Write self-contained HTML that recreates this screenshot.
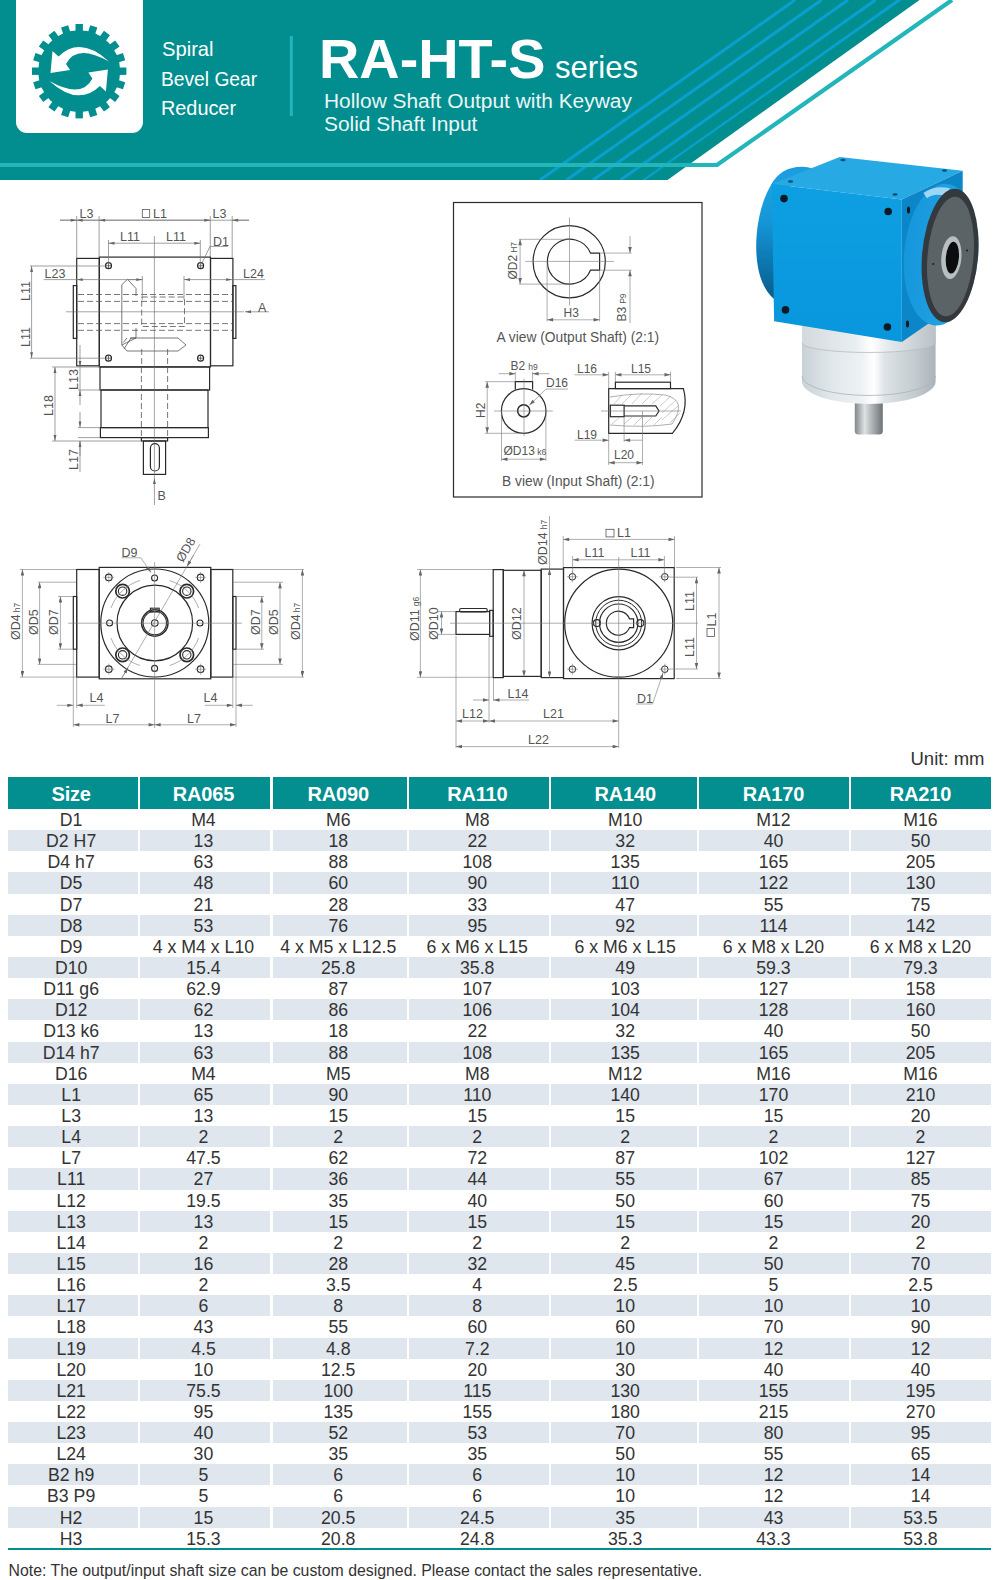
<!DOCTYPE html>
<html><head><meta charset="utf-8">
<style>
*{margin:0;padding:0;box-sizing:border-box}
html,body{width:1000px;height:1580px;overflow:hidden;background:#fff}
body{position:relative;font-family:"Liberation Sans",sans-serif;color:#333}
.abs{position:absolute}
.ht{color:#fff;line-height:1;white-space:nowrap;transform-origin:0 0}
.th{position:absolute;top:777px;height:32px;background:#038e8f;color:#fff;font-weight:bold;font-size:20px;line-height:35px;text-align:center;letter-spacing:-0.2px}
.td{position:absolute;height:21.14px;font-size:17.7px;line-height:21.14px;text-align:center;color:#333;white-space:nowrap;padding-top:1px}
.g{background:#dfe6ed}
.bl{position:absolute;left:8px;width:983px;top:1548.2px;height:2.2px;background:#038e8f}
.note{position:absolute;left:8.5px;top:1561px;font-size:15.85px;line-height:18px;color:#333;white-space:nowrap;padding-top:1px}
.unit{position:absolute;left:910.5px;top:749.2px;font-size:18.5px;line-height:18px;color:#333;white-space:nowrap;padding-top:1px}
</style></head><body>
<svg class="abs" style="left:0;top:0" width="1000" height="190" viewBox="0 0 1000 190">
<defs><clipPath id="tc"><polygon points="0,0 919.5,0 667.5,180 0,180"/></clipPath></defs>
<polygon points="0,0 919.5,0 667.5,180 0,180" fill="#028e8f"/>
<g clip-path="url(#tc)" stroke="#0a9fcf" fill="none">
<line x1="795" y1="0" x2="540" y2="180" stroke-width="3.1"/>
<line x1="821.5" y1="0" x2="566.5" y2="180" stroke-width="3.1"/>
<line x1="848" y1="0" x2="593" y2="180" stroke-width="3.1"/>
<line x1="875.5" y1="0" x2="620.5" y2="180" stroke-width="3.1"/>
<polygon points="896.5,0 902,0 645.5,180 642,180" stroke="none" fill="#0a9fcf"/>
</g>
<polyline points="0,165 717,165 952,0" fill="none" stroke="#22b5ba" stroke-width="4.2"/>
<path d="M16,0 H143 V122 A11,11 0 0 1 132,133 H27 A11,11 0 0 1 16,122 Z" fill="#fff"/>
<g fill="#028e8f">
<circle cx="79.2" cy="71.2" r="41"/>
<g id="teeth">
<rect x="75.5" y="24" width="7.4" height="10" transform="rotate(0 79.2 71.2)"/><rect x="75.5" y="24" width="7.4" height="10" transform="rotate(18 79.2 71.2)"/><rect x="75.5" y="24" width="7.4" height="10" transform="rotate(36 79.2 71.2)"/><rect x="75.5" y="24" width="7.4" height="10" transform="rotate(54 79.2 71.2)"/><rect x="75.5" y="24" width="7.4" height="10" transform="rotate(72 79.2 71.2)"/><rect x="75.5" y="24" width="7.4" height="10" transform="rotate(90 79.2 71.2)"/><rect x="75.5" y="24" width="7.4" height="10" transform="rotate(108 79.2 71.2)"/><rect x="75.5" y="24" width="7.4" height="10" transform="rotate(126 79.2 71.2)"/><rect x="75.5" y="24" width="7.4" height="10" transform="rotate(144 79.2 71.2)"/><rect x="75.5" y="24" width="7.4" height="10" transform="rotate(162 79.2 71.2)"/><rect x="75.5" y="24" width="7.4" height="10" transform="rotate(180 79.2 71.2)"/><rect x="75.5" y="24" width="7.4" height="10" transform="rotate(198 79.2 71.2)"/><rect x="75.5" y="24" width="7.4" height="10" transform="rotate(216 79.2 71.2)"/><rect x="75.5" y="24" width="7.4" height="10" transform="rotate(234 79.2 71.2)"/><rect x="75.5" y="24" width="7.4" height="10" transform="rotate(252 79.2 71.2)"/><rect x="75.5" y="24" width="7.4" height="10" transform="rotate(270 79.2 71.2)"/><rect x="75.5" y="24" width="7.4" height="10" transform="rotate(288 79.2 71.2)"/><rect x="75.5" y="24" width="7.4" height="10" transform="rotate(306 79.2 71.2)"/><rect x="75.5" y="24" width="7.4" height="10" transform="rotate(324 79.2 71.2)"/><rect x="75.5" y="24" width="7.4" height="10" transform="rotate(342 79.2 71.2)"/>
</g>
</g>
<g fill="#fff">
<path id="arw" d="M50.5,73 L52.5,51 L58.5,56.5 Q80.25,35.4 109,61.5 Q76.5,43.25 66,64 L70,70 Z"/>
<use href="#arw" transform="rotate(180 79.2 71.2)"/>
</g>
<rect x="289.8" y="36" width="3" height="80" fill="#22b5ba"/>
</svg>
<div class="abs ht" style="left:161.5px;top:38px;font-size:21px;transform:scaleX(0.96)">Spiral</div>
<div class="abs ht" style="left:160.5px;top:67.6px;font-size:21px;transform:scaleX(0.915)">Bevel Gear</div>
<div class="abs ht" style="left:160.5px;top:97.4px;font-size:21px;transform:scaleX(0.945)">Reducer</div>
<div class="abs ht" style="left:319.3px;top:31.9px;font-size:55px;font-weight:bold;transform:scaleX(1.015)">RA-HT-S</div>
<div class="abs ht" style="left:554.5px;top:51.7px;font-size:30.5px;transform:scaleX(1.02)">series</div>
<div class="abs ht" style="left:324px;top:91.4px;font-size:20px;transform:scaleX(1.045);opacity:0.92">Hollow Shaft Output with Keyway</div>
<div class="abs ht" style="left:324px;top:114.2px;font-size:20px;transform:scaleX(1.045);opacity:0.92">Solid Shaft Input</div>

<svg class="abs" style="left:740px;top:140px" width="260" height="310" viewBox="740 140 260 310">
<defs>
<linearGradient id="silv" x1="0" x2="1" y1="0" y2="0">
<stop offset="0" stop-color="#c8d1d6"/><stop offset="0.2" stop-color="#dfe6ea"/><stop offset="0.45" stop-color="#eef2f4"/><stop offset="0.54" stop-color="#ffffff"/><stop offset="0.62" stop-color="#dde3e6"/><stop offset="0.85" stop-color="#c3cbcf"/><stop offset="1" stop-color="#aab3b8"/>
</linearGradient>
<linearGradient id="silv2" x1="0" x2="1" y1="0" y2="0">
<stop offset="0" stop-color="#d3dade"/><stop offset="0.4" stop-color="#e9eef1"/><stop offset="0.52" stop-color="#ffffff"/><stop offset="0.65" stop-color="#e4e9ec"/><stop offset="1" stop-color="#b9c2c7"/>
</linearGradient>
<linearGradient id="shaft" x1="0" x2="1" y1="0" y2="0">
<stop offset="0" stop-color="#80868a"/><stop offset="0.35" stop-color="#dfe2e3"/><stop offset="0.55" stop-color="#b9bec1"/><stop offset="1" stop-color="#6c7276"/>
</linearGradient>
<linearGradient id="front" x1="0" x2="0" y1="0" y2="1">
<stop offset="0" stop-color="#0e9fe2"/><stop offset="1" stop-color="#0896dc"/>
</linearGradient>
<linearGradient id="bossg" x1="0" x2="0" y1="0" y2="1">
<stop offset="0" stop-color="#1ea2e0"/><stop offset="0.35" stop-color="#1595d6"/><stop offset="0.7" stop-color="#0c76b0"/><stop offset="1" stop-color="#0a5c88"/>
</linearGradient>
<linearGradient id="flg" x1="0" x2="1" y1="0" y2="0">
<stop offset="0" stop-color="#1597dc"/><stop offset="1" stop-color="#2aa6e4"/>
</linearGradient>
</defs>
<!-- shaft -->
<path d="M854.8,398 H882.8 V431 Q882.8,434.5 879,434.5 H858.5 Q854.8,434.5 854.8,431 Z" fill="url(#shaft)"/>
<!-- silver housing -->
<path d="M802,318 L935.6,318 L935.6,381.5 A66.8,22.5 0 0 1 802,381.5 Z" fill="url(#silv)"/>
<path d="M802,318 L935.6,318 L935.6,343 A66.8,9.5 0 0 1 802,343 Z" fill="url(#silv2)"/>
<path d="M802,343 A66.8,9.5 0 0 0 935.6,343" fill="none" stroke="#b3bcc1" stroke-width="0.8"/>
<path d="M802,376 A66.8,19.5 0 0 0 935.6,376" fill="none" stroke="#aab3b8" stroke-width="0.8"/>
<!-- left boss -->
<path d="M773,182 C763,196 756,222 756.2,247 C756.4,272 763,290 774,299 L790,299 L790,182 Z" fill="url(#bossg)"/>
<path d="M771,185 Q782,165 806,167 Q812,168 814,170 L790,181 Z" fill="#1c9ddf"/>
<!-- top face -->
<polygon points="771.8,184 839.7,156.9 962.7,170.7 901.8,199.4" fill="#27a9e3"/>
<!-- right face -->
<polygon points="901.8,199.4 962.7,170.7 962.7,300 901.8,342" fill="#0b87c9"/>
<!-- front face -->
<polygon points="771.8,184 901.8,199.4 901.8,342 774.1,321.3" fill="url(#front)"/>
<!-- top holes -->
<g fill="#0a4f77">
<ellipse cx="843" cy="160" rx="2.6" ry="1.2"/><ellipse cx="944.5" cy="170.5" rx="2.6" ry="1.2"/>
<ellipse cx="790.5" cy="181.5" rx="2.6" ry="1.2"/><ellipse cx="895" cy="194.5" rx="2.6" ry="1.2"/>
</g>
<!-- front holes -->
<g fill="#0b1a24">
<circle cx="784" cy="198.6" r="3.8"/><circle cx="888.2" cy="211.5" r="3.8"/>
<circle cx="785.5" cy="309.9" r="3.8"/><circle cx="887.4" cy="327" r="3.8"/>
<ellipse cx="908.5" cy="210" rx="1.6" ry="3.6"/><ellipse cx="907.5" cy="324" rx="1.6" ry="3.6"/>
</g>
<!-- flange --><g transform="rotate(5 945 256)">
<ellipse cx="941" cy="255" rx="37" ry="71" fill="url(#flg)"/>
<path d="M918,195 Q928,186 944,188 L940,196 Q928,194 922,200 Z" fill="#bfe6f8" opacity="0.8"/>
<ellipse cx="950" cy="255" rx="28" ry="67" fill="#33393d"/>
<ellipse cx="950.5" cy="256" rx="23" ry="60" fill="#5c6367"/>
<ellipse cx="951.5" cy="257" rx="10" ry="21.5" fill="#b9bec1"/>
<ellipse cx="952.5" cy="257" rx="6.5" ry="16" fill="#0a0c0d"/>
<circle cx="934" cy="265" r="1" fill="#1a1d1f"/><circle cx="966.5" cy="248.5" r="1" fill="#1a1d1f"/>
</g>
</svg>

<svg class="abs" style="left:0;top:190px" width="300" height="330" viewBox="0 190 300 330">
<defs>
<marker id="ar" viewBox="0 0 10 6" refX="10" refY="3" markerWidth="8" markerHeight="3.6" markerUnits="userSpaceOnUse" orient="auto-start-reverse"><path d="M0,0.6 L10,3 L0,5.4 Z" fill="#666"/></marker>
</defs>
<g fill="none" stroke="#2a2a2a" stroke-width="1.2">
<rect x="99.3" y="257.1" width="111.2" height="109.8"/>
<rect x="76.7" y="258.4" width="22.6" height="107.4"/>
<rect x="210.5" y="258.4" width="22.4" height="107.4"/>
<rect x="73.3" y="285.6" width="3.4" height="52.8"/>
<rect x="232.9" y="285.6" width="3" height="52.8"/>
<rect x="100" y="367" width="109.6" height="23"/>
<rect x="101" y="390" width="107" height="37.6"/>
<rect x="100.4" y="427.6" width="108" height="10"/>
<rect x="141.4" y="437.6" width="26.2" height="3.4"/>
<rect x="143.4" y="441" width="22.2" height="33.4"/>
<rect x="150.4" y="443.6" width="9" height="27.4" rx="4.5"/>
<circle cx="108.5" cy="265.7" r="3"/><circle cx="200.6" cy="265.7" r="3"/>
<circle cx="108.5" cy="358.2" r="3"/><circle cx="200.6" cy="358.2" r="3"/>
</g>
<g fill="none" stroke="#555" stroke-width="0.8" stroke-dasharray="6,3">
<line x1="78" y1="294.5" x2="232" y2="294.5"/>
<line x1="78" y1="301.4" x2="232" y2="301.4"/>
<line x1="78" y1="323.6" x2="232" y2="323.6"/>
<line x1="78" y1="330.3" x2="232" y2="330.3"/>
<rect x="141.7" y="297" width="42.8" height="29.5"/>
<line x1="141.4" y1="367" x2="141.4" y2="437"/>
<line x1="167.6" y1="367" x2="167.6" y2="437"/>
<line x1="141.7" y1="349" x2="141.7" y2="367"/>
<line x1="167.6" y1="349" x2="167.6" y2="367"/>
<polyline points="136,338 127,338 122,344"/>
</g>
<g fill="none" stroke="#555" stroke-width="0.8">
<polyline points="121.8,345 121.8,284.7 127.5,279.3 136,288.5 136,296"/>
<polyline points="136,328 136,338 121.8,345"/>
<polyline points="124,349 131,338 178,338 186,345 178,351 127,351 121.8,345"/>
<line x1="106" y1="265.7" x2="111" y2="265.7"/><line x1="108.5" y1="263.2" x2="108.5" y2="268.2"/>
<line x1="198.1" y1="265.7" x2="203.1" y2="265.7"/><line x1="200.6" y1="263.2" x2="200.6" y2="268.2"/>
<line x1="106" y1="358.2" x2="111" y2="358.2"/><line x1="108.5" y1="355.7" x2="108.5" y2="360.7"/>
<line x1="198.1" y1="358.2" x2="203.1" y2="358.2"/><line x1="200.6" y1="355.7" x2="200.6" y2="360.7"/>
</g>
<g fill="none" stroke="#666" stroke-width="0.6">
<line x1="154.4" y1="236" x2="154.4" y2="478"/>
<line x1="66" y1="311.8" x2="244" y2="311.8"/>
</g>
<g fill="none" stroke="#777" stroke-width="0.7">
<line x1="60" y1="220.2" x2="249" y2="220.2"/>
<line x1="76.7" y1="216" x2="76.7" y2="258"/><line x1="99.1" y1="216" x2="99.1" y2="257"/>
<line x1="210.3" y1="216" x2="210.3" y2="257"/><line x1="232.2" y1="216" x2="232.2" y2="258"/>
<line x1="99.1" y1="220.2" x2="76.7" y2="220.2" marker-end="url(#ar)"/>
<line x1="60" y1="220.2" x2="76.7" y2="220.2" marker-end="url(#ar)"/>
<line x1="154" y1="220.2" x2="99.1" y2="220.2" marker-end="url(#ar)"/>
<line x1="154" y1="220.2" x2="210.3" y2="220.2" marker-end="url(#ar)"/>
<line x1="249" y1="220.2" x2="232.2" y2="220.2" marker-end="url(#ar)"/>
<line x1="108.5" y1="240" x2="108.5" y2="263"/><line x1="200.3" y1="240" x2="200.3" y2="263"/>
<line x1="154.4" y1="243.2" x2="108.5" y2="243.2" marker-end="url(#ar)"/>
<line x1="154.4" y1="243.2" x2="200.3" y2="243.2" marker-end="url(#ar)"/>
<polyline points="228,246.4 210,246.4 202,263"/>
<line x1="30" y1="266" x2="106" y2="266"/>
<line x1="30" y1="358.2" x2="106" y2="358.2"/>
<line x1="31.6" y1="311.8" x2="31.6" y2="266" marker-end="url(#ar)"/>
<line x1="31.6" y1="311.8" x2="31.6" y2="358.2" marker-end="url(#ar)"/>
<line x1="43.7" y1="279.6" x2="76.7" y2="279.6"/>
<line x1="143" y1="279.6" x2="76.7" y2="279.6" marker-end="url(#ar)"/>
<line x1="142.3" y1="279.6" x2="128" y2="279.6" marker-start="url(#ar)"/>
<line x1="142.3" y1="276" x2="142.3" y2="300"/>
<line x1="265" y1="279.6" x2="232.9" y2="279.6"/>
<line x1="184" y1="279.6" x2="232.2" y2="279.6" marker-start="url(#ar)" marker-end="url(#ar)"/>
<line x1="184" y1="276" x2="184" y2="300"/>
<line x1="269" y1="311.8" x2="245" y2="311.8" marker-end="url(#ar)"/>
<line x1="52" y1="367" x2="100" y2="367"/>
<line x1="78" y1="390" x2="101" y2="390"/>
<line x1="78" y1="427.6" x2="100" y2="427.6"/>
<line x1="78" y1="437.6" x2="100" y2="437.6"/>
<line x1="52" y1="441" x2="141" y2="441"/>
<line x1="55" y1="404" x2="55" y2="367" marker-end="url(#ar)"/>
<line x1="55" y1="404" x2="55" y2="441" marker-end="url(#ar)"/>
<line x1="80" y1="345" x2="80" y2="367" marker-end="url(#ar)"/>
<line x1="80" y1="367" x2="80" y2="390"/>
<line x1="80" y1="405" x2="80" y2="390" marker-end="url(#ar)"/>
<line x1="80" y1="412" x2="80" y2="427.6" marker-end="url(#ar)"/>
<line x1="80" y1="456" x2="80" y2="441" marker-end="url(#ar)"/>
<line x1="80" y1="441" x2="80" y2="472"/>
<line x1="154.4" y1="505" x2="154.4" y2="478" marker-end="url(#ar)"/>
</g>
<g fill="#555" font-size="12.5" font-family="Liberation Sans, sans-serif">
<text x="79.5" y="217.5">L3</text>
<text x="153" y="217.5">L1</text>
<rect x="142.3" y="209.6" width="7.4" height="7.8" fill="none" stroke="#555" stroke-width="0.8"/>
<text x="212.5" y="217.5">L3</text>
<text x="120" y="241">L11</text>
<text x="166" y="241">L11</text>
<text x="213" y="245.5">D1</text>
<text x="44.5" y="278">L23</text>
<text x="243" y="278">L24</text>
<text x="258" y="312">A</text>
<text x="157.5" y="500">B</text>
<text transform="translate(30,301) rotate(-90)">L11</text>
<text transform="translate(30,347) rotate(-90)">L11</text>
<text transform="translate(52.5,416) rotate(-90)">L18</text>
<text transform="translate(77.5,390) rotate(-90)">L13</text>
<text transform="translate(77.5,470) rotate(-90)">L17</text>
</g>
</svg>

<svg class="abs" style="left:440px;top:195px" width="275" height="315" viewBox="440 195 275 315">
<defs>
<marker id="ar2" viewBox="0 0 10 6" refX="10" refY="3" markerWidth="8" markerHeight="3.6" markerUnits="userSpaceOnUse" orient="auto-start-reverse"><path d="M0,0 L10,3 L0,6 Z" fill="#666"/></marker>
</defs>
<rect x="453.5" y="202.5" width="248.5" height="294.5" fill="none" stroke="#2a2a2a" stroke-width="1.2"/>
<g fill="none" stroke="#2a2a2a" stroke-width="1.2">
<circle cx="569.2" cy="261.7" r="36.1"/>
<path d="M590.5,253.1 A22.4,22.4 0 1 0 590.5,270.2 L599.6,270.2 L599.6,253.1 Z"/>
<circle cx="523.7" cy="411" r="22.3"/>
<circle cx="523.7" cy="410.8" r="6.1" stroke-width="1.5"/>
<polyline points="515.3,389.5 515.3,381.7 532.6,381.7 532.6,389.5"/>
<path d="M670.5,388.6 L683.4,388.6 Q690,412 672.4,433.3 L608.7,433.3 L608.7,388.6 L670.5,388.6"/>
<rect x="615.4" y="382.2" width="55.1" height="6.4"/>
<rect x="610.3" y="405.2" width="13.8" height="11.5"/>
<polyline points="624.1,405.9 655.8,405.9 659,411 655.8,416 624.1,416"/>
</g>
<g fill="none" stroke="#777" stroke-width="0.6">
<path d="M610,397 Q640,392 665,395 Q688,400 672,424 Q645,428 610,425" />
<g stroke-width="0.5" stroke="#999">
<line x1="614" y1="404" x2="622" y2="395"/><line x1="622" y1="404" x2="632" y2="394"/><line x1="632" y1="404" x2="642" y2="393"/><line x1="642" y1="404" x2="652" y2="394"/><line x1="652" y1="404" x2="662" y2="395"/><line x1="660" y1="406" x2="671" y2="396"/><line x1="662" y1="413" x2="676" y2="400"/><line x1="662" y1="420" x2="678" y2="406"/><line x1="670" y1="423" x2="680" y2="413"/>
<line x1="612" y1="424" x2="620" y2="417"/><line x1="624" y1="424" x2="632" y2="417"/><line x1="634" y1="425" x2="642" y2="417"/><line x1="644" y1="425" x2="652" y2="417"/><line x1="654" y1="425" x2="662" y2="417"/>
</g>
</g>
<g fill="none" stroke="#777" stroke-width="0.6">
<line x1="569.5" y1="217.4" x2="569.5" y2="305.4"/>
<line x1="525.2" y1="261.4" x2="614" y2="261.4"/>
<line x1="518.8" y1="239.3" x2="569" y2="239.3"/><line x1="518.8" y1="284.1" x2="569" y2="284.1"/>
<line x1="520.1" y1="261.7" x2="520.1" y2="239.3" marker-end="url(#ar2)"/>
<line x1="520.1" y1="261.7" x2="520.1" y2="284.1" marker-end="url(#ar2)"/>
<line x1="600.4" y1="253.1" x2="631.6" y2="253.1"/><line x1="600.4" y1="270.2" x2="631.6" y2="270.2"/>
<line x1="630" y1="235.8" x2="630" y2="253.1" marker-end="url(#ar2)"/>
<line x1="630" y1="323" x2="630" y2="270.2" marker-end="url(#ar2)"/>
<line x1="547.1" y1="261.4" x2="547.1" y2="321.4"/><line x1="599.6" y1="270.2" x2="599.6" y2="321.4"/>
<line x1="573" y1="319.8" x2="547.1" y2="319.8" marker-end="url(#ar2)"/>
<line x1="573" y1="319.8" x2="599.6" y2="319.8" marker-end="url(#ar2)"/>
<line x1="524" y1="378.7" x2="524" y2="436.2"/>
<line x1="494.1" y1="411" x2="552.8" y2="411"/>
<line x1="485" y1="381.7" x2="515" y2="381.7"/><line x1="485" y1="433.3" x2="524" y2="433.3"/>
<line x1="487.2" y1="407" x2="487.2" y2="381.7" marker-end="url(#ar2)"/>
<line x1="487.2" y1="407" x2="487.2" y2="433.3" marker-end="url(#ar2)"/>
<line x1="515.3" y1="371.8" x2="515.3" y2="381.7"/><line x1="532.6" y1="371.8" x2="532.6" y2="381.7"/>
<line x1="498.7" y1="373.7" x2="515.3" y2="373.7" marker-end="url(#ar2)"/>
<line x1="549.3" y1="373.7" x2="532.6" y2="373.7" marker-end="url(#ar2)"/>
<polyline points="568,389.1 546,389.1 529.3,405.2" marker-end="url(#ar2)"/>
<line x1="501.5" y1="411" x2="501.5" y2="461"/><line x1="545.9" y1="411" x2="545.9" y2="461"/>
<line x1="523" y1="459.2" x2="501.5" y2="459.2" marker-end="url(#ar2)"/>
<line x1="523" y1="459.2" x2="545.9" y2="459.2" marker-end="url(#ar2)"/>
<line x1="601" y1="411" x2="681" y2="411"/>
<line x1="608.7" y1="371.8" x2="608.7" y2="388.6"/><line x1="615.4" y1="371.8" x2="615.4" y2="382"/><line x1="670.5" y1="371.8" x2="670.5" y2="382"/>
<line x1="574.6" y1="374.8" x2="608.7" y2="374.8" marker-end="url(#ar2)"/>
<line x1="643" y1="374.8" x2="615.4" y2="374.8" marker-end="url(#ar2)"/>
<line x1="643" y1="374.8" x2="670.5" y2="374.8" marker-end="url(#ar2)"/>
<line x1="608.7" y1="433.3" x2="608.7" y2="465"/><line x1="624.1" y1="416.7" x2="624.1" y2="442"/><line x1="642.5" y1="411" x2="642.5" y2="465"/>
<line x1="574.6" y1="440.2" x2="608.7" y2="440.2" marker-end="url(#ar2)"/>
<line x1="642.5" y1="440.2" x2="624.1" y2="440.2" marker-end="url(#ar2)"/>
<line x1="625" y1="462.7" x2="608.7" y2="462.7" marker-end="url(#ar2)"/>
<line x1="625" y1="462.7" x2="642.5" y2="462.7" marker-end="url(#ar2)"/>
</g>
<g fill="#555" font-family="Liberation Sans, sans-serif" font-size="12.5">
<text x="496.5" y="341.6" font-size="13.8">A view (Output Shaft) (2:1)</text>
<text x="502" y="486.4" font-size="13.8">B view (Input Shaft) (2:1)</text>
<text x="563.5" y="317" font-size="12">H3</text>
<text transform="translate(517,279.5) rotate(-90)" font-size="12">ØD2<tspan font-size="8.5" dx="2">H7</tspan></text>
<text transform="translate(626,321.5) rotate(-90)" font-size="12">B3<tspan font-size="8.5" dx="3">P9</tspan></text>
<text transform="translate(485,418) rotate(-90)" font-size="12">H2</text>
<text x="510.5" y="370.2" font-size="12">B2<tspan font-size="8.5" dx="3">h9</tspan></text>
<text x="546" y="387.3" font-size="12">D16</text>
<text x="503.5" y="454.6" font-size="12">ØD13<tspan font-size="8.5" dx="2.5">k6</tspan></text>
<text x="577" y="373" font-size="12">L16</text>
<text x="631" y="373" font-size="12">L15</text>
<text x="577" y="438.5" font-size="12">L19</text>
<text x="614" y="459.2" font-size="12">L20</text>
</g>
</svg>

<svg class="abs" style="left:0;top:530px" width="320" height="210" viewBox="0 530 320 210">
<defs>
<marker id="ar3" viewBox="0 0 10 6" refX="10" refY="3" markerWidth="8" markerHeight="3.6" markerUnits="userSpaceOnUse" orient="auto-start-reverse"><path d="M0,0 L10,3 L0,6 Z" fill="#666"/></marker>
</defs>
<g fill="none" stroke="#2a2a2a" stroke-width="1.2">
<rect x="99.2" y="567.4" width="111.6" height="111.4"/>
<rect x="76.7" y="569.5" width="22.5" height="107.6"/>
<rect x="210.8" y="569.5" width="22" height="107.6"/>
<rect x="73.3" y="596.5" width="3.4" height="52.7"/>
<rect x="232.8" y="596.5" width="3.2" height="52.7"/>
<circle cx="154.8" cy="623" r="54"/>
<circle cx="154.8" cy="623" r="37.8"/>
<g stroke-width="1.7"><circle cx="122.6" cy="591.2" r="6.8"/><circle cx="186.8" cy="591.2" r="6.8"/>
<circle cx="122.6" cy="654.8" r="6.8"/><circle cx="186.8" cy="654.8" r="6.8"/></g>
<circle cx="154.8" cy="623" r="13.2" stroke-width="1.5"/>
</g>
<g fill="none" stroke="#2a2a2a" stroke-width="1.1">
<circle cx="122.6" cy="591.2" r="4.2"/><circle cx="186.8" cy="591.2" r="4.2"/>
<circle cx="122.6" cy="654.8" r="4.2"/><circle cx="186.8" cy="654.8" r="4.2"/>
<circle cx="154.8" cy="623" r="11.7"/>
<rect x="150.4" y="608.2" width="8.8" height="3.8"/>
<circle cx="154.8" cy="623" r="3.3"/>
<circle cx="109.6" cy="623" r="3"/><circle cx="200" cy="623" r="3"/>
<circle cx="154.6" cy="578" r="3"/><circle cx="154.6" cy="668.4" r="3"/>
<circle cx="108.8" cy="577.4" r="3.3"/><circle cx="200.6" cy="577.4" r="3.3"/>
<circle cx="108.8" cy="669.2" r="3.3"/><circle cx="200.6" cy="669.2" r="3.3"/>
<path stroke="#777" stroke-width="0.6" d="M103.3,577.4 H114.3 M108.8,571.9 V582.9 M195.1,577.4 H206.1 M200.60000000000002,571.9 V582.9 M103.3,669.2 H114.3 M108.8,663.7 V674.7 M195.1,669.2 H206.1 M200.60000000000002,663.7 V674.7"/>
</g>
<g fill="none" stroke="#777" stroke-width="0.6">
<path d="M111,608 A45,45 0 0 1 140,580.5 M169.5,580.5 A45,45 0 0 1 198.6,608 M198.6,638 A45,45 0 0 1 169.5,665.5 M140,665.5 A45,45 0 0 1 111,638"/>
<line x1="154.6" y1="562" x2="154.6" y2="728"/>
<line x1="68.2" y1="623.2" x2="242" y2="623.2"/>
<line x1="121.6" y1="678.4" x2="200" y2="544"/>
<line x1="128" y1="667.5" x2="121.6" y2="678.4" marker-start="url(#ar3)"/>
<line x1="187" y1="566.5" x2="193.5" y2="555.3" marker-start="url(#ar3)"/>
<polyline points="121.6,557.8 140.8,557.8 151,572.5" marker-end="url(#ar3)"/>
<line x1="20" y1="569.5" x2="76" y2="569.5"/><line x1="20" y1="677.1" x2="76" y2="677.1"/>
<line x1="37.8" y1="582.2" x2="76" y2="582.2"/><line x1="37.8" y1="664.4" x2="76" y2="664.4"/>
<line x1="58.1" y1="596.5" x2="73" y2="596.5"/><line x1="58.1" y1="649.2" x2="73" y2="649.2"/>
<line x1="22.4" y1="623" x2="22.4" y2="569.5" marker-end="url(#ar3)"/><line x1="22.4" y1="623" x2="22.4" y2="677.1" marker-end="url(#ar3)"/>
<line x1="39.6" y1="623" x2="39.6" y2="582.2" marker-end="url(#ar3)"/><line x1="39.6" y1="623" x2="39.6" y2="664.4" marker-end="url(#ar3)"/>
<line x1="60.4" y1="623" x2="60.4" y2="596.5" marker-end="url(#ar3)"/><line x1="60.4" y1="623" x2="60.4" y2="649.2" marker-end="url(#ar3)"/>
<line x1="233" y1="569.5" x2="304" y2="569.5"/><line x1="233" y1="677.1" x2="304" y2="677.1"/>
<line x1="233" y1="582.2" x2="283" y2="582.2"/><line x1="233" y1="664.4" x2="283" y2="664.4"/>
<line x1="236" y1="596.5" x2="264" y2="596.5"/><line x1="236" y1="649.2" x2="264" y2="649.2"/>
<line x1="302.4" y1="623" x2="302.4" y2="569.5" marker-end="url(#ar3)"/><line x1="302.4" y1="623" x2="302.4" y2="677.1" marker-end="url(#ar3)"/>
<line x1="280" y1="623" x2="280" y2="582.2" marker-end="url(#ar3)"/><line x1="280" y1="623" x2="280" y2="664.4" marker-end="url(#ar3)"/>
<line x1="261.8" y1="623" x2="261.8" y2="596.5" marker-end="url(#ar3)"/><line x1="261.8" y1="623" x2="261.8" y2="649.2" marker-end="url(#ar3)"/>
<line x1="73.3" y1="650" x2="73.3" y2="727"/><line x1="76.7" y1="678" x2="76.7" y2="708"/>
<line x1="232.8" y1="678" x2="232.8" y2="708"/><line x1="236" y1="650" x2="236" y2="727"/>
<line x1="56.8" y1="705.3" x2="73.3" y2="705.3" marker-end="url(#ar3)"/>
<line x1="104.9" y1="705.3" x2="76.7" y2="705.3" marker-end="url(#ar3)"/>
<line x1="204.8" y1="705.3" x2="232.8" y2="705.3" marker-end="url(#ar3)"/>
<line x1="252.8" y1="705.3" x2="236" y2="705.3" marker-end="url(#ar3)"/>
<line x1="154.6" y1="724.8" x2="73.3" y2="724.8" marker-start="url(#ar3)" marker-end="url(#ar3)"/>
<line x1="154.6" y1="724.8" x2="236" y2="724.8" marker-start="url(#ar3)" marker-end="url(#ar3)"/>
</g>
<g fill="#555" font-family="Liberation Sans, sans-serif" font-size="12.5">
<text x="121.5" y="556.5">D9</text>
<text transform="translate(183,563) rotate(-60)">ØD8</text>
<text x="89.5" y="702.4">L4</text>
<text x="203.5" y="702.4">L4</text>
<text x="105.5" y="722.5">L7</text>
<text x="187" y="722.5">L7</text>
<text transform="translate(19.5,640) rotate(-90)">ØD4<tspan font-size="8.5" dx="2">h7</tspan></text>
<text transform="translate(37.5,635) rotate(-90)">ØD5</text>
<text transform="translate(58,635) rotate(-90)">ØD7</text>
<text transform="translate(260,635) rotate(-90)">ØD7</text>
<text transform="translate(277.5,635) rotate(-90)">ØD5</text>
<text transform="translate(300,640) rotate(-90)">ØD4<tspan font-size="8.5" dx="2">h7</tspan></text>
</g>
</svg>

<svg class="abs" style="left:400px;top:505px" width="340" height="255" viewBox="400 505 340 255">
<defs>
<marker id="ar4" viewBox="0 0 10 6" refX="10" refY="3" markerWidth="8" markerHeight="3.6" markerUnits="userSpaceOnUse" orient="auto-start-reverse"><path d="M0,0 L10,3 L0,6 Z" fill="#666"/></marker>
</defs>
<g fill="none" stroke="#2a2a2a" stroke-width="1.2">
<rect x="563.5" y="567.6" width="110.7" height="111"/>
<circle cx="618.7" cy="623.2" r="54"/>
<circle cx="618.7" cy="623.2" r="26.6"/>
<circle cx="618.7" cy="623.2" r="19.2"/>
<path d="M629.5,618.8 A12,12 0 1 0 629.5,627.6 L633.6,627.6 L633.6,618.8 Z"/>
<circle cx="596.9" cy="623.1" r="3.5"/><circle cx="640.3" cy="623.1" r="3.5"/>
<rect x="541.2" y="569.1" width="22.3" height="108.5"/>
<rect x="503.3" y="570.3" width="37.9" height="106.1"/>
<rect x="493.2" y="569.6" width="10.1" height="108"/>
<rect x="489.6" y="610.4" width="3.6" height="25.9"/>
<rect x="456" y="611.6" width="33.6" height="22.8"/>
<rect x="459.6" y="608.5" width="27.6" height="3.5" rx="1.5"/>
</g>
<g fill="none" stroke="#2a2a2a" stroke-width="1">
<circle cx="618.7" cy="623.2" r="23"/>
<circle cx="572.4" cy="576.8" r="3.3"/><circle cx="664.8" cy="576.8" r="3.3"/>
<circle cx="572.4" cy="669.2" r="3.3"/><circle cx="664.8" cy="669.2" r="3.3"/>
<path stroke="#777" stroke-width="0.6" d="M566.9,576.8 H577.9 M572.4000000000001,571.3 V582.3 M659.3,576.8 H670.3 M664.8,571.3 V582.3 M566.9,669.2 H577.9 M572.4000000000001,663.7 V674.7 M659.3,669.2 H670.3 M664.8,663.7 V674.7"/>
</g>
<g fill="none" stroke="#777" stroke-width="0.6">
<line x1="450" y1="623.2" x2="698" y2="623.2"/>
<line x1="618.7" y1="557" x2="618.7" y2="748"/>
<line x1="563.2" y1="536" x2="563.2" y2="567"/><line x1="674.5" y1="536" x2="674.5" y2="567"/>
<line x1="619" y1="539.4" x2="563.2" y2="539.4" marker-end="url(#ar4)"/>
<line x1="619" y1="539.4" x2="674.5" y2="539.4" marker-end="url(#ar4)"/>
<line x1="572.6" y1="556" x2="572.6" y2="573"/><line x1="664.4" y1="556" x2="664.4" y2="573"/>
<line x1="618.8" y1="559.8" x2="572.6" y2="559.8" marker-end="url(#ar4)"/>
<line x1="618.8" y1="559.8" x2="664.4" y2="559.8" marker-end="url(#ar4)"/>
<line x1="676" y1="567.5" x2="721" y2="567.5"/><line x1="676" y1="678.5" x2="721" y2="678.5"/>
<line x1="670" y1="577.2" x2="698" y2="577.2"/><line x1="670" y1="669" x2="698" y2="669"/>
<line x1="696.5" y1="623.3" x2="696.5" y2="577.2" marker-end="url(#ar4)"/>
<line x1="696.5" y1="623.3" x2="696.5" y2="669" marker-end="url(#ar4)"/>
<line x1="719" y1="623" x2="719" y2="567.5" marker-end="url(#ar4)"/>
<line x1="719" y1="623" x2="719" y2="678.5" marker-end="url(#ar4)"/>
<polyline points="636,704 652.5,704 663,673" marker-end="url(#ar4)"/>
<line x1="549.5" y1="516" x2="549.5" y2="569"/>
<line x1="549.5" y1="623" x2="549.5" y2="569.1" marker-end="url(#ar4)"/>
<line x1="549.5" y1="623" x2="549.5" y2="677.6" marker-end="url(#ar4)"/>
<line x1="524" y1="623" x2="524" y2="570.3" marker-end="url(#ar4)"/>
<line x1="524" y1="623" x2="524" y2="676.4" marker-end="url(#ar4)"/>
<line x1="417" y1="569.5" x2="493" y2="569.5"/><line x1="417" y1="677.3" x2="493" y2="677.3"/>
<line x1="420.4" y1="623" x2="420.4" y2="569.5" marker-end="url(#ar4)"/>
<line x1="420.4" y1="623" x2="420.4" y2="677.3" marker-end="url(#ar4)"/>
<line x1="437.4" y1="611.6" x2="456" y2="611.6"/><line x1="437.4" y1="634.4" x2="456" y2="634.4"/>
<line x1="441.5" y1="623" x2="441.5" y2="611.6" marker-end="url(#ar4)"/>
<line x1="441.5" y1="623" x2="441.5" y2="634.4" marker-end="url(#ar4)"/>
<line x1="456" y1="635.8" x2="456" y2="748"/>
<line x1="489" y1="637" x2="489" y2="722.5"/>
<line x1="493.5" y1="678" x2="493.5" y2="701"/>
<line x1="473" y1="700" x2="489" y2="700" marker-end="url(#ar4)"/>
<line x1="529" y1="700" x2="493.5" y2="700" marker-end="url(#ar4)"/>
<line x1="472" y1="721" x2="456" y2="721" marker-end="url(#ar4)"/>
<line x1="472" y1="721" x2="489" y2="721" marker-end="url(#ar4)"/>
<line x1="553" y1="721" x2="489" y2="721" marker-end="url(#ar4)"/>
<line x1="553" y1="721" x2="618.6" y2="721" marker-end="url(#ar4)"/>
<line x1="537" y1="746.6" x2="456" y2="746.6" marker-end="url(#ar4)"/>
<line x1="537" y1="746.6" x2="618.6" y2="746.6" marker-end="url(#ar4)"/>
</g>
<g fill="#555" font-family="Liberation Sans, sans-serif" font-size="12.5">
<rect x="606" y="529.3" width="8" height="7.6" fill="none" stroke="#555" stroke-width="0.8"/>
<text x="617" y="537">L1</text>
<text x="584.5" y="556.6">L11</text>
<text x="630.5" y="556.6">L11</text>
<text x="507.5" y="697.5">L14</text>
<text x="462" y="718.3">L12</text>
<text x="543" y="718.3">L21</text>
<text x="528" y="743.5">L22</text>
<text x="637" y="703">D1</text>
<text transform="translate(693.5,611) rotate(-90)">L11</text>
<text transform="translate(693.5,657) rotate(-90)">L11</text>
<text transform="translate(716,626.5) rotate(-90)">L1</text>
<rect x="707" y="628.5" width="7.6" height="8" fill="none" stroke="#555" stroke-width="0.8"/>
<text transform="translate(546.5,565) rotate(-90)">ØD14<tspan font-size="8.5" dx="3">h7</tspan></text>
<text transform="translate(521,640) rotate(-90)">ØD12</text>
<text transform="translate(438,640) rotate(-90)">ØD10</text>
<text transform="translate(419,641) rotate(-90)">ØD11<tspan font-size="8.5" dx="3">g6</tspan></text>
</g>
</svg>

<div class="unit">Unit: mm</div>
<div class="th" style="left:8px;width:130.3px;padding-left:0px;padding-right:4px">Size</div>
<div class="th" style="left:140.4px;width:130.1px;padding-left:0px;padding-right:4px">RA065</div>
<div class="th" style="left:272.5px;width:134.0px;padding-left:0px;padding-right:2.5px">RA090</div>
<div class="th" style="left:408.5px;width:140.5px;padding-left:0px;padding-right:3.0px">RA110</div>
<div class="th" style="left:551px;width:146px;padding-left:2.4px;padding-right:0px">RA140</div>
<div class="th" style="left:699px;width:149.5px;padding-left:0px;padding-right:0.5px">RA170</div>
<div class="th" style="left:850.5px;width:140.5px;padding-left:0px;padding-right:0.5px">RA210</div>
<div class="td" style="left:8px;top:809.00px;width:130.3px;padding-left:0px;padding-right:4px">D1</div>
<div class="td" style="left:140.4px;top:809.00px;width:130.1px;padding-left:0px;padding-right:4px">M4</div>
<div class="td" style="left:272.5px;top:809.00px;width:134.0px;padding-left:0px;padding-right:2.5px">M6</div>
<div class="td" style="left:408.5px;top:809.00px;width:140.5px;padding-left:0px;padding-right:3.0px">M8</div>
<div class="td" style="left:551px;top:809.00px;width:146px;padding-left:2.4px;padding-right:0px">M10</div>
<div class="td" style="left:699px;top:809.00px;width:149.5px;padding-left:0px;padding-right:0.5px">M12</div>
<div class="td" style="left:850.5px;top:809.00px;width:140.5px;padding-left:0px;padding-right:0.5px">M16</div>
<div class="td g" style="left:8px;top:830.14px;width:130.3px;padding-left:0px;padding-right:4px">D2 H7</div>
<div class="td g" style="left:140.4px;top:830.14px;width:130.1px;padding-left:0px;padding-right:4px">13</div>
<div class="td g" style="left:272.5px;top:830.14px;width:134.0px;padding-left:0px;padding-right:2.5px">18</div>
<div class="td g" style="left:408.5px;top:830.14px;width:140.5px;padding-left:0px;padding-right:3.0px">22</div>
<div class="td g" style="left:551px;top:830.14px;width:146px;padding-left:2.4px;padding-right:0px">32</div>
<div class="td g" style="left:699px;top:830.14px;width:149.5px;padding-left:0px;padding-right:0.5px">40</div>
<div class="td g" style="left:850.5px;top:830.14px;width:140.5px;padding-left:0px;padding-right:0.5px">50</div>
<div class="td" style="left:8px;top:851.28px;width:130.3px;padding-left:0px;padding-right:4px">D4 h7</div>
<div class="td" style="left:140.4px;top:851.28px;width:130.1px;padding-left:0px;padding-right:4px">63</div>
<div class="td" style="left:272.5px;top:851.28px;width:134.0px;padding-left:0px;padding-right:2.5px">88</div>
<div class="td" style="left:408.5px;top:851.28px;width:140.5px;padding-left:0px;padding-right:3.0px">108</div>
<div class="td" style="left:551px;top:851.28px;width:146px;padding-left:2.4px;padding-right:0px">135</div>
<div class="td" style="left:699px;top:851.28px;width:149.5px;padding-left:0px;padding-right:0.5px">165</div>
<div class="td" style="left:850.5px;top:851.28px;width:140.5px;padding-left:0px;padding-right:0.5px">205</div>
<div class="td g" style="left:8px;top:872.42px;width:130.3px;padding-left:0px;padding-right:4px">D5</div>
<div class="td g" style="left:140.4px;top:872.42px;width:130.1px;padding-left:0px;padding-right:4px">48</div>
<div class="td g" style="left:272.5px;top:872.42px;width:134.0px;padding-left:0px;padding-right:2.5px">60</div>
<div class="td g" style="left:408.5px;top:872.42px;width:140.5px;padding-left:0px;padding-right:3.0px">90</div>
<div class="td g" style="left:551px;top:872.42px;width:146px;padding-left:2.4px;padding-right:0px">110</div>
<div class="td g" style="left:699px;top:872.42px;width:149.5px;padding-left:0px;padding-right:0.5px">122</div>
<div class="td g" style="left:850.5px;top:872.42px;width:140.5px;padding-left:0px;padding-right:0.5px">130</div>
<div class="td" style="left:8px;top:893.56px;width:130.3px;padding-left:0px;padding-right:4px">D7</div>
<div class="td" style="left:140.4px;top:893.56px;width:130.1px;padding-left:0px;padding-right:4px">21</div>
<div class="td" style="left:272.5px;top:893.56px;width:134.0px;padding-left:0px;padding-right:2.5px">28</div>
<div class="td" style="left:408.5px;top:893.56px;width:140.5px;padding-left:0px;padding-right:3.0px">33</div>
<div class="td" style="left:551px;top:893.56px;width:146px;padding-left:2.4px;padding-right:0px">47</div>
<div class="td" style="left:699px;top:893.56px;width:149.5px;padding-left:0px;padding-right:0.5px">55</div>
<div class="td" style="left:850.5px;top:893.56px;width:140.5px;padding-left:0px;padding-right:0.5px">75</div>
<div class="td g" style="left:8px;top:914.70px;width:130.3px;padding-left:0px;padding-right:4px">D8</div>
<div class="td g" style="left:140.4px;top:914.70px;width:130.1px;padding-left:0px;padding-right:4px">53</div>
<div class="td g" style="left:272.5px;top:914.70px;width:134.0px;padding-left:0px;padding-right:2.5px">76</div>
<div class="td g" style="left:408.5px;top:914.70px;width:140.5px;padding-left:0px;padding-right:3.0px">95</div>
<div class="td g" style="left:551px;top:914.70px;width:146px;padding-left:2.4px;padding-right:0px">92</div>
<div class="td g" style="left:699px;top:914.70px;width:149.5px;padding-left:0px;padding-right:0.5px">114</div>
<div class="td g" style="left:850.5px;top:914.70px;width:140.5px;padding-left:0px;padding-right:0.5px">142</div>
<div class="td" style="left:8px;top:935.84px;width:130.3px;padding-left:0px;padding-right:4px">D9</div>
<div class="td" style="left:140.4px;top:935.84px;width:130.1px;padding-left:0px;padding-right:4px">4 x M4 x L10</div>
<div class="td" style="left:272.5px;top:935.84px;width:134.0px;padding-left:0px;padding-right:2.5px">4 x M5 x L12.5</div>
<div class="td" style="left:408.5px;top:935.84px;width:140.5px;padding-left:0px;padding-right:3.0px">6 x M6 x L15</div>
<div class="td" style="left:551px;top:935.84px;width:146px;padding-left:2.4px;padding-right:0px">6 x M6 x L15</div>
<div class="td" style="left:699px;top:935.84px;width:149.5px;padding-left:0px;padding-right:0.5px">6 x M8 x L20</div>
<div class="td" style="left:850.5px;top:935.84px;width:140.5px;padding-left:0px;padding-right:0.5px">6 x M8 x L20</div>
<div class="td g" style="left:8px;top:956.98px;width:130.3px;padding-left:0px;padding-right:4px">D10</div>
<div class="td g" style="left:140.4px;top:956.98px;width:130.1px;padding-left:0px;padding-right:4px">15.4</div>
<div class="td g" style="left:272.5px;top:956.98px;width:134.0px;padding-left:0px;padding-right:2.5px">25.8</div>
<div class="td g" style="left:408.5px;top:956.98px;width:140.5px;padding-left:0px;padding-right:3.0px">35.8</div>
<div class="td g" style="left:551px;top:956.98px;width:146px;padding-left:2.4px;padding-right:0px">49</div>
<div class="td g" style="left:699px;top:956.98px;width:149.5px;padding-left:0px;padding-right:0.5px">59.3</div>
<div class="td g" style="left:850.5px;top:956.98px;width:140.5px;padding-left:0px;padding-right:0.5px">79.3</div>
<div class="td" style="left:8px;top:978.12px;width:130.3px;padding-left:0px;padding-right:4px">D11 g6</div>
<div class="td" style="left:140.4px;top:978.12px;width:130.1px;padding-left:0px;padding-right:4px">62.9</div>
<div class="td" style="left:272.5px;top:978.12px;width:134.0px;padding-left:0px;padding-right:2.5px">87</div>
<div class="td" style="left:408.5px;top:978.12px;width:140.5px;padding-left:0px;padding-right:3.0px">107</div>
<div class="td" style="left:551px;top:978.12px;width:146px;padding-left:2.4px;padding-right:0px">103</div>
<div class="td" style="left:699px;top:978.12px;width:149.5px;padding-left:0px;padding-right:0.5px">127</div>
<div class="td" style="left:850.5px;top:978.12px;width:140.5px;padding-left:0px;padding-right:0.5px">158</div>
<div class="td g" style="left:8px;top:999.26px;width:130.3px;padding-left:0px;padding-right:4px">D12</div>
<div class="td g" style="left:140.4px;top:999.26px;width:130.1px;padding-left:0px;padding-right:4px">62</div>
<div class="td g" style="left:272.5px;top:999.26px;width:134.0px;padding-left:0px;padding-right:2.5px">86</div>
<div class="td g" style="left:408.5px;top:999.26px;width:140.5px;padding-left:0px;padding-right:3.0px">106</div>
<div class="td g" style="left:551px;top:999.26px;width:146px;padding-left:2.4px;padding-right:0px">104</div>
<div class="td g" style="left:699px;top:999.26px;width:149.5px;padding-left:0px;padding-right:0.5px">128</div>
<div class="td g" style="left:850.5px;top:999.26px;width:140.5px;padding-left:0px;padding-right:0.5px">160</div>
<div class="td" style="left:8px;top:1020.40px;width:130.3px;padding-left:0px;padding-right:4px">D13 k6</div>
<div class="td" style="left:140.4px;top:1020.40px;width:130.1px;padding-left:0px;padding-right:4px">13</div>
<div class="td" style="left:272.5px;top:1020.40px;width:134.0px;padding-left:0px;padding-right:2.5px">18</div>
<div class="td" style="left:408.5px;top:1020.40px;width:140.5px;padding-left:0px;padding-right:3.0px">22</div>
<div class="td" style="left:551px;top:1020.40px;width:146px;padding-left:2.4px;padding-right:0px">32</div>
<div class="td" style="left:699px;top:1020.40px;width:149.5px;padding-left:0px;padding-right:0.5px">40</div>
<div class="td" style="left:850.5px;top:1020.40px;width:140.5px;padding-left:0px;padding-right:0.5px">50</div>
<div class="td g" style="left:8px;top:1041.54px;width:130.3px;padding-left:0px;padding-right:4px">D14 h7</div>
<div class="td g" style="left:140.4px;top:1041.54px;width:130.1px;padding-left:0px;padding-right:4px">63</div>
<div class="td g" style="left:272.5px;top:1041.54px;width:134.0px;padding-left:0px;padding-right:2.5px">88</div>
<div class="td g" style="left:408.5px;top:1041.54px;width:140.5px;padding-left:0px;padding-right:3.0px">108</div>
<div class="td g" style="left:551px;top:1041.54px;width:146px;padding-left:2.4px;padding-right:0px">135</div>
<div class="td g" style="left:699px;top:1041.54px;width:149.5px;padding-left:0px;padding-right:0.5px">165</div>
<div class="td g" style="left:850.5px;top:1041.54px;width:140.5px;padding-left:0px;padding-right:0.5px">205</div>
<div class="td" style="left:8px;top:1062.68px;width:130.3px;padding-left:0px;padding-right:4px">D16</div>
<div class="td" style="left:140.4px;top:1062.68px;width:130.1px;padding-left:0px;padding-right:4px">M4</div>
<div class="td" style="left:272.5px;top:1062.68px;width:134.0px;padding-left:0px;padding-right:2.5px">M5</div>
<div class="td" style="left:408.5px;top:1062.68px;width:140.5px;padding-left:0px;padding-right:3.0px">M8</div>
<div class="td" style="left:551px;top:1062.68px;width:146px;padding-left:2.4px;padding-right:0px">M12</div>
<div class="td" style="left:699px;top:1062.68px;width:149.5px;padding-left:0px;padding-right:0.5px">M16</div>
<div class="td" style="left:850.5px;top:1062.68px;width:140.5px;padding-left:0px;padding-right:0.5px">M16</div>
<div class="td g" style="left:8px;top:1083.82px;width:130.3px;padding-left:0px;padding-right:4px">L1</div>
<div class="td g" style="left:140.4px;top:1083.82px;width:130.1px;padding-left:0px;padding-right:4px">65</div>
<div class="td g" style="left:272.5px;top:1083.82px;width:134.0px;padding-left:0px;padding-right:2.5px">90</div>
<div class="td g" style="left:408.5px;top:1083.82px;width:140.5px;padding-left:0px;padding-right:3.0px">110</div>
<div class="td g" style="left:551px;top:1083.82px;width:146px;padding-left:2.4px;padding-right:0px">140</div>
<div class="td g" style="left:699px;top:1083.82px;width:149.5px;padding-left:0px;padding-right:0.5px">170</div>
<div class="td g" style="left:850.5px;top:1083.82px;width:140.5px;padding-left:0px;padding-right:0.5px">210</div>
<div class="td" style="left:8px;top:1104.96px;width:130.3px;padding-left:0px;padding-right:4px">L3</div>
<div class="td" style="left:140.4px;top:1104.96px;width:130.1px;padding-left:0px;padding-right:4px">13</div>
<div class="td" style="left:272.5px;top:1104.96px;width:134.0px;padding-left:0px;padding-right:2.5px">15</div>
<div class="td" style="left:408.5px;top:1104.96px;width:140.5px;padding-left:0px;padding-right:3.0px">15</div>
<div class="td" style="left:551px;top:1104.96px;width:146px;padding-left:2.4px;padding-right:0px">15</div>
<div class="td" style="left:699px;top:1104.96px;width:149.5px;padding-left:0px;padding-right:0.5px">15</div>
<div class="td" style="left:850.5px;top:1104.96px;width:140.5px;padding-left:0px;padding-right:0.5px">20</div>
<div class="td g" style="left:8px;top:1126.10px;width:130.3px;padding-left:0px;padding-right:4px">L4</div>
<div class="td g" style="left:140.4px;top:1126.10px;width:130.1px;padding-left:0px;padding-right:4px">2</div>
<div class="td g" style="left:272.5px;top:1126.10px;width:134.0px;padding-left:0px;padding-right:2.5px">2</div>
<div class="td g" style="left:408.5px;top:1126.10px;width:140.5px;padding-left:0px;padding-right:3.0px">2</div>
<div class="td g" style="left:551px;top:1126.10px;width:146px;padding-left:2.4px;padding-right:0px">2</div>
<div class="td g" style="left:699px;top:1126.10px;width:149.5px;padding-left:0px;padding-right:0.5px">2</div>
<div class="td g" style="left:850.5px;top:1126.10px;width:140.5px;padding-left:0px;padding-right:0.5px">2</div>
<div class="td" style="left:8px;top:1147.24px;width:130.3px;padding-left:0px;padding-right:4px">L7</div>
<div class="td" style="left:140.4px;top:1147.24px;width:130.1px;padding-left:0px;padding-right:4px">47.5</div>
<div class="td" style="left:272.5px;top:1147.24px;width:134.0px;padding-left:0px;padding-right:2.5px">62</div>
<div class="td" style="left:408.5px;top:1147.24px;width:140.5px;padding-left:0px;padding-right:3.0px">72</div>
<div class="td" style="left:551px;top:1147.24px;width:146px;padding-left:2.4px;padding-right:0px">87</div>
<div class="td" style="left:699px;top:1147.24px;width:149.5px;padding-left:0px;padding-right:0.5px">102</div>
<div class="td" style="left:850.5px;top:1147.24px;width:140.5px;padding-left:0px;padding-right:0.5px">127</div>
<div class="td g" style="left:8px;top:1168.38px;width:130.3px;padding-left:0px;padding-right:4px">L11</div>
<div class="td g" style="left:140.4px;top:1168.38px;width:130.1px;padding-left:0px;padding-right:4px">27</div>
<div class="td g" style="left:272.5px;top:1168.38px;width:134.0px;padding-left:0px;padding-right:2.5px">36</div>
<div class="td g" style="left:408.5px;top:1168.38px;width:140.5px;padding-left:0px;padding-right:3.0px">44</div>
<div class="td g" style="left:551px;top:1168.38px;width:146px;padding-left:2.4px;padding-right:0px">55</div>
<div class="td g" style="left:699px;top:1168.38px;width:149.5px;padding-left:0px;padding-right:0.5px">67</div>
<div class="td g" style="left:850.5px;top:1168.38px;width:140.5px;padding-left:0px;padding-right:0.5px">85</div>
<div class="td" style="left:8px;top:1189.52px;width:130.3px;padding-left:0px;padding-right:4px">L12</div>
<div class="td" style="left:140.4px;top:1189.52px;width:130.1px;padding-left:0px;padding-right:4px">19.5</div>
<div class="td" style="left:272.5px;top:1189.52px;width:134.0px;padding-left:0px;padding-right:2.5px">35</div>
<div class="td" style="left:408.5px;top:1189.52px;width:140.5px;padding-left:0px;padding-right:3.0px">40</div>
<div class="td" style="left:551px;top:1189.52px;width:146px;padding-left:2.4px;padding-right:0px">50</div>
<div class="td" style="left:699px;top:1189.52px;width:149.5px;padding-left:0px;padding-right:0.5px">60</div>
<div class="td" style="left:850.5px;top:1189.52px;width:140.5px;padding-left:0px;padding-right:0.5px">75</div>
<div class="td g" style="left:8px;top:1210.66px;width:130.3px;padding-left:0px;padding-right:4px">L13</div>
<div class="td g" style="left:140.4px;top:1210.66px;width:130.1px;padding-left:0px;padding-right:4px">13</div>
<div class="td g" style="left:272.5px;top:1210.66px;width:134.0px;padding-left:0px;padding-right:2.5px">15</div>
<div class="td g" style="left:408.5px;top:1210.66px;width:140.5px;padding-left:0px;padding-right:3.0px">15</div>
<div class="td g" style="left:551px;top:1210.66px;width:146px;padding-left:2.4px;padding-right:0px">15</div>
<div class="td g" style="left:699px;top:1210.66px;width:149.5px;padding-left:0px;padding-right:0.5px">15</div>
<div class="td g" style="left:850.5px;top:1210.66px;width:140.5px;padding-left:0px;padding-right:0.5px">20</div>
<div class="td" style="left:8px;top:1231.80px;width:130.3px;padding-left:0px;padding-right:4px">L14</div>
<div class="td" style="left:140.4px;top:1231.80px;width:130.1px;padding-left:0px;padding-right:4px">2</div>
<div class="td" style="left:272.5px;top:1231.80px;width:134.0px;padding-left:0px;padding-right:2.5px">2</div>
<div class="td" style="left:408.5px;top:1231.80px;width:140.5px;padding-left:0px;padding-right:3.0px">2</div>
<div class="td" style="left:551px;top:1231.80px;width:146px;padding-left:2.4px;padding-right:0px">2</div>
<div class="td" style="left:699px;top:1231.80px;width:149.5px;padding-left:0px;padding-right:0.5px">2</div>
<div class="td" style="left:850.5px;top:1231.80px;width:140.5px;padding-left:0px;padding-right:0.5px">2</div>
<div class="td g" style="left:8px;top:1252.94px;width:130.3px;padding-left:0px;padding-right:4px">L15</div>
<div class="td g" style="left:140.4px;top:1252.94px;width:130.1px;padding-left:0px;padding-right:4px">16</div>
<div class="td g" style="left:272.5px;top:1252.94px;width:134.0px;padding-left:0px;padding-right:2.5px">28</div>
<div class="td g" style="left:408.5px;top:1252.94px;width:140.5px;padding-left:0px;padding-right:3.0px">32</div>
<div class="td g" style="left:551px;top:1252.94px;width:146px;padding-left:2.4px;padding-right:0px">45</div>
<div class="td g" style="left:699px;top:1252.94px;width:149.5px;padding-left:0px;padding-right:0.5px">50</div>
<div class="td g" style="left:850.5px;top:1252.94px;width:140.5px;padding-left:0px;padding-right:0.5px">70</div>
<div class="td" style="left:8px;top:1274.08px;width:130.3px;padding-left:0px;padding-right:4px">L16</div>
<div class="td" style="left:140.4px;top:1274.08px;width:130.1px;padding-left:0px;padding-right:4px">2</div>
<div class="td" style="left:272.5px;top:1274.08px;width:134.0px;padding-left:0px;padding-right:2.5px">3.5</div>
<div class="td" style="left:408.5px;top:1274.08px;width:140.5px;padding-left:0px;padding-right:3.0px">4</div>
<div class="td" style="left:551px;top:1274.08px;width:146px;padding-left:2.4px;padding-right:0px">2.5</div>
<div class="td" style="left:699px;top:1274.08px;width:149.5px;padding-left:0px;padding-right:0.5px">5</div>
<div class="td" style="left:850.5px;top:1274.08px;width:140.5px;padding-left:0px;padding-right:0.5px">2.5</div>
<div class="td g" style="left:8px;top:1295.22px;width:130.3px;padding-left:0px;padding-right:4px">L17</div>
<div class="td g" style="left:140.4px;top:1295.22px;width:130.1px;padding-left:0px;padding-right:4px">6</div>
<div class="td g" style="left:272.5px;top:1295.22px;width:134.0px;padding-left:0px;padding-right:2.5px">8</div>
<div class="td g" style="left:408.5px;top:1295.22px;width:140.5px;padding-left:0px;padding-right:3.0px">8</div>
<div class="td g" style="left:551px;top:1295.22px;width:146px;padding-left:2.4px;padding-right:0px">10</div>
<div class="td g" style="left:699px;top:1295.22px;width:149.5px;padding-left:0px;padding-right:0.5px">10</div>
<div class="td g" style="left:850.5px;top:1295.22px;width:140.5px;padding-left:0px;padding-right:0.5px">10</div>
<div class="td" style="left:8px;top:1316.36px;width:130.3px;padding-left:0px;padding-right:4px">L18</div>
<div class="td" style="left:140.4px;top:1316.36px;width:130.1px;padding-left:0px;padding-right:4px">43</div>
<div class="td" style="left:272.5px;top:1316.36px;width:134.0px;padding-left:0px;padding-right:2.5px">55</div>
<div class="td" style="left:408.5px;top:1316.36px;width:140.5px;padding-left:0px;padding-right:3.0px">60</div>
<div class="td" style="left:551px;top:1316.36px;width:146px;padding-left:2.4px;padding-right:0px">60</div>
<div class="td" style="left:699px;top:1316.36px;width:149.5px;padding-left:0px;padding-right:0.5px">70</div>
<div class="td" style="left:850.5px;top:1316.36px;width:140.5px;padding-left:0px;padding-right:0.5px">90</div>
<div class="td g" style="left:8px;top:1337.50px;width:130.3px;padding-left:0px;padding-right:4px">L19</div>
<div class="td g" style="left:140.4px;top:1337.50px;width:130.1px;padding-left:0px;padding-right:4px">4.5</div>
<div class="td g" style="left:272.5px;top:1337.50px;width:134.0px;padding-left:0px;padding-right:2.5px">4.8</div>
<div class="td g" style="left:408.5px;top:1337.50px;width:140.5px;padding-left:0px;padding-right:3.0px">7.2</div>
<div class="td g" style="left:551px;top:1337.50px;width:146px;padding-left:2.4px;padding-right:0px">10</div>
<div class="td g" style="left:699px;top:1337.50px;width:149.5px;padding-left:0px;padding-right:0.5px">12</div>
<div class="td g" style="left:850.5px;top:1337.50px;width:140.5px;padding-left:0px;padding-right:0.5px">12</div>
<div class="td" style="left:8px;top:1358.64px;width:130.3px;padding-left:0px;padding-right:4px">L20</div>
<div class="td" style="left:140.4px;top:1358.64px;width:130.1px;padding-left:0px;padding-right:4px">10</div>
<div class="td" style="left:272.5px;top:1358.64px;width:134.0px;padding-left:0px;padding-right:2.5px">12.5</div>
<div class="td" style="left:408.5px;top:1358.64px;width:140.5px;padding-left:0px;padding-right:3.0px">20</div>
<div class="td" style="left:551px;top:1358.64px;width:146px;padding-left:2.4px;padding-right:0px">30</div>
<div class="td" style="left:699px;top:1358.64px;width:149.5px;padding-left:0px;padding-right:0.5px">40</div>
<div class="td" style="left:850.5px;top:1358.64px;width:140.5px;padding-left:0px;padding-right:0.5px">40</div>
<div class="td g" style="left:8px;top:1379.78px;width:130.3px;padding-left:0px;padding-right:4px">L21</div>
<div class="td g" style="left:140.4px;top:1379.78px;width:130.1px;padding-left:0px;padding-right:4px">75.5</div>
<div class="td g" style="left:272.5px;top:1379.78px;width:134.0px;padding-left:0px;padding-right:2.5px">100</div>
<div class="td g" style="left:408.5px;top:1379.78px;width:140.5px;padding-left:0px;padding-right:3.0px">115</div>
<div class="td g" style="left:551px;top:1379.78px;width:146px;padding-left:2.4px;padding-right:0px">130</div>
<div class="td g" style="left:699px;top:1379.78px;width:149.5px;padding-left:0px;padding-right:0.5px">155</div>
<div class="td g" style="left:850.5px;top:1379.78px;width:140.5px;padding-left:0px;padding-right:0.5px">195</div>
<div class="td" style="left:8px;top:1400.92px;width:130.3px;padding-left:0px;padding-right:4px">L22</div>
<div class="td" style="left:140.4px;top:1400.92px;width:130.1px;padding-left:0px;padding-right:4px">95</div>
<div class="td" style="left:272.5px;top:1400.92px;width:134.0px;padding-left:0px;padding-right:2.5px">135</div>
<div class="td" style="left:408.5px;top:1400.92px;width:140.5px;padding-left:0px;padding-right:3.0px">155</div>
<div class="td" style="left:551px;top:1400.92px;width:146px;padding-left:2.4px;padding-right:0px">180</div>
<div class="td" style="left:699px;top:1400.92px;width:149.5px;padding-left:0px;padding-right:0.5px">215</div>
<div class="td" style="left:850.5px;top:1400.92px;width:140.5px;padding-left:0px;padding-right:0.5px">270</div>
<div class="td g" style="left:8px;top:1422.06px;width:130.3px;padding-left:0px;padding-right:4px">L23</div>
<div class="td g" style="left:140.4px;top:1422.06px;width:130.1px;padding-left:0px;padding-right:4px">40</div>
<div class="td g" style="left:272.5px;top:1422.06px;width:134.0px;padding-left:0px;padding-right:2.5px">52</div>
<div class="td g" style="left:408.5px;top:1422.06px;width:140.5px;padding-left:0px;padding-right:3.0px">53</div>
<div class="td g" style="left:551px;top:1422.06px;width:146px;padding-left:2.4px;padding-right:0px">70</div>
<div class="td g" style="left:699px;top:1422.06px;width:149.5px;padding-left:0px;padding-right:0.5px">80</div>
<div class="td g" style="left:850.5px;top:1422.06px;width:140.5px;padding-left:0px;padding-right:0.5px">95</div>
<div class="td" style="left:8px;top:1443.20px;width:130.3px;padding-left:0px;padding-right:4px">L24</div>
<div class="td" style="left:140.4px;top:1443.20px;width:130.1px;padding-left:0px;padding-right:4px">30</div>
<div class="td" style="left:272.5px;top:1443.20px;width:134.0px;padding-left:0px;padding-right:2.5px">35</div>
<div class="td" style="left:408.5px;top:1443.20px;width:140.5px;padding-left:0px;padding-right:3.0px">35</div>
<div class="td" style="left:551px;top:1443.20px;width:146px;padding-left:2.4px;padding-right:0px">50</div>
<div class="td" style="left:699px;top:1443.20px;width:149.5px;padding-left:0px;padding-right:0.5px">55</div>
<div class="td" style="left:850.5px;top:1443.20px;width:140.5px;padding-left:0px;padding-right:0.5px">65</div>
<div class="td g" style="left:8px;top:1464.34px;width:130.3px;padding-left:0px;padding-right:4px">B2 h9</div>
<div class="td g" style="left:140.4px;top:1464.34px;width:130.1px;padding-left:0px;padding-right:4px">5</div>
<div class="td g" style="left:272.5px;top:1464.34px;width:134.0px;padding-left:0px;padding-right:2.5px">6</div>
<div class="td g" style="left:408.5px;top:1464.34px;width:140.5px;padding-left:0px;padding-right:3.0px">6</div>
<div class="td g" style="left:551px;top:1464.34px;width:146px;padding-left:2.4px;padding-right:0px">10</div>
<div class="td g" style="left:699px;top:1464.34px;width:149.5px;padding-left:0px;padding-right:0.5px">12</div>
<div class="td g" style="left:850.5px;top:1464.34px;width:140.5px;padding-left:0px;padding-right:0.5px">14</div>
<div class="td" style="left:8px;top:1485.48px;width:130.3px;padding-left:0px;padding-right:4px">B3 P9</div>
<div class="td" style="left:140.4px;top:1485.48px;width:130.1px;padding-left:0px;padding-right:4px">5</div>
<div class="td" style="left:272.5px;top:1485.48px;width:134.0px;padding-left:0px;padding-right:2.5px">6</div>
<div class="td" style="left:408.5px;top:1485.48px;width:140.5px;padding-left:0px;padding-right:3.0px">6</div>
<div class="td" style="left:551px;top:1485.48px;width:146px;padding-left:2.4px;padding-right:0px">10</div>
<div class="td" style="left:699px;top:1485.48px;width:149.5px;padding-left:0px;padding-right:0.5px">12</div>
<div class="td" style="left:850.5px;top:1485.48px;width:140.5px;padding-left:0px;padding-right:0.5px">14</div>
<div class="td g" style="left:8px;top:1506.62px;width:130.3px;padding-left:0px;padding-right:4px">H2</div>
<div class="td g" style="left:140.4px;top:1506.62px;width:130.1px;padding-left:0px;padding-right:4px">15</div>
<div class="td g" style="left:272.5px;top:1506.62px;width:134.0px;padding-left:0px;padding-right:2.5px">20.5</div>
<div class="td g" style="left:408.5px;top:1506.62px;width:140.5px;padding-left:0px;padding-right:3.0px">24.5</div>
<div class="td g" style="left:551px;top:1506.62px;width:146px;padding-left:2.4px;padding-right:0px">35</div>
<div class="td g" style="left:699px;top:1506.62px;width:149.5px;padding-left:0px;padding-right:0.5px">43</div>
<div class="td g" style="left:850.5px;top:1506.62px;width:140.5px;padding-left:0px;padding-right:0.5px">53.5</div>
<div class="td" style="left:8px;top:1527.76px;width:130.3px;padding-left:0px;padding-right:4px">H3</div>
<div class="td" style="left:140.4px;top:1527.76px;width:130.1px;padding-left:0px;padding-right:4px">15.3</div>
<div class="td" style="left:272.5px;top:1527.76px;width:134.0px;padding-left:0px;padding-right:2.5px">20.8</div>
<div class="td" style="left:408.5px;top:1527.76px;width:140.5px;padding-left:0px;padding-right:3.0px">24.8</div>
<div class="td" style="left:551px;top:1527.76px;width:146px;padding-left:2.4px;padding-right:0px">35.3</div>
<div class="td" style="left:699px;top:1527.76px;width:149.5px;padding-left:0px;padding-right:0.5px">43.3</div>
<div class="td" style="left:850.5px;top:1527.76px;width:140.5px;padding-left:0px;padding-right:0.5px">53.8</div>
<div class="bl"></div>
<div class="note">Note: The output/input shaft size can be custom designed. Please contact the sales representative.</div>
</body></html>
